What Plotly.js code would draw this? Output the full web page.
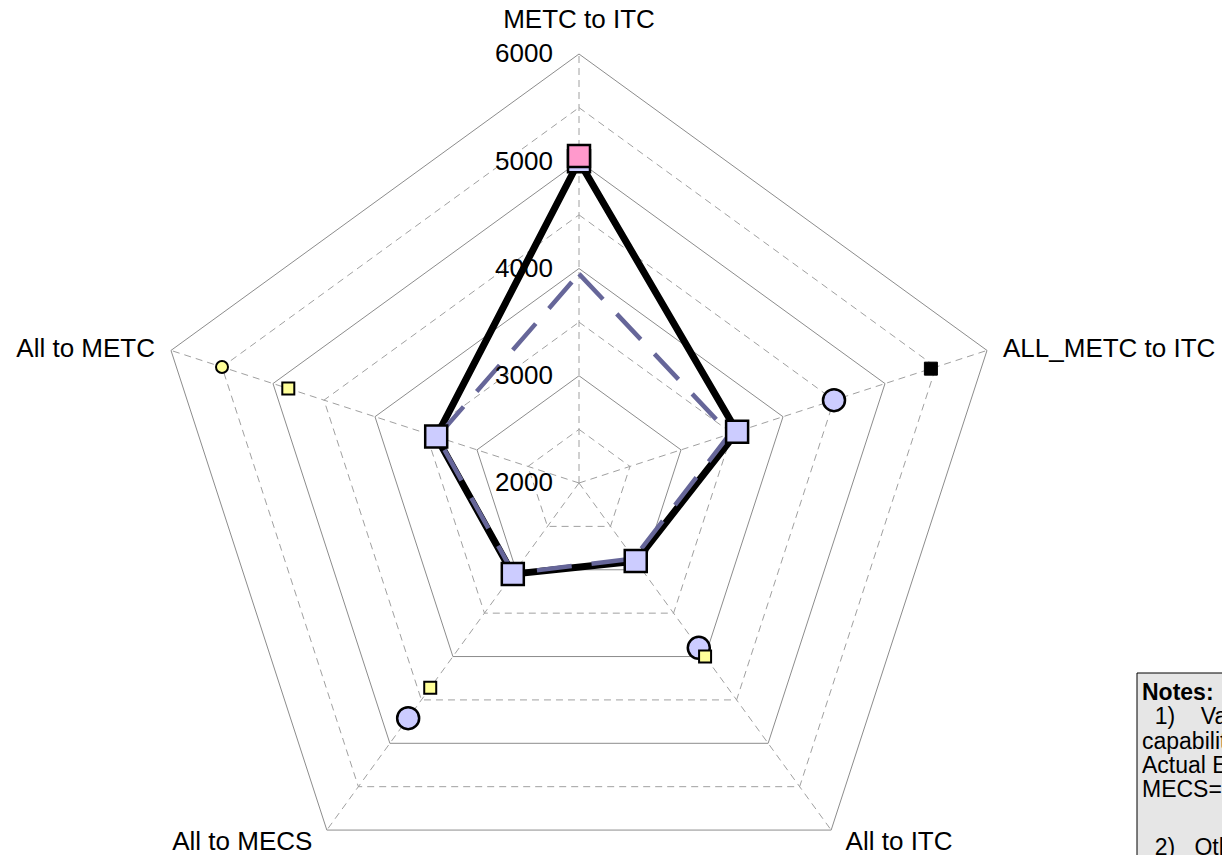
<!DOCTYPE html>
<html><head><meta charset="utf-8">
<script src="https://cdn.plot.ly/plotly-3.0.1.min.js"></script>
<style>
html,body{margin:0;padding:0;overflow:hidden;background:#fff;width:1222px;height:855px}
#chart{width:1500px;height:1000px}
</style>
</head><body><div id="chart"></div>
<script>
// ---- data ----
const categories = ["METC to ITC", "ALL_METC to ITC", "All to ITC", "All to MECS", "All to METC"];
const actualValues = [5000, 3550, 2900, 3050, 3400];      // thick black line, lavender squares
const dashedValues = [3950, 3480, 2870, 3040, 3390];      // slate dashed line
const pinkCats = ["METC to ITC"];
const pinkValues = [5050];
const circleCats = ["ALL_METC to ITC", "All to ITC", "All to MECS"];
const circleValues = [4500, 3900, 4710];
const yellowSqCats = ["All to ITC", "All to MECS", "All to METC"];
const yellowSqValues = [4000, 4360, 4850];
const yellowCircleCats = ["All to METC"];
const yellowCircleValues = [5500];
const blackSqCats = ["ALL_METC to ITC"];
const blackSqValues = [5450];
const radialTicks = [2000, 3000, 4000, 5000, 6000];
const dashedRingLevels = [2500, 3500, 4500, 5500];
const notesLines = [
  "<b>Notes:</b>",
  "&nbsp;&nbsp;1)&nbsp;&nbsp;&nbsp;&nbsp;Values are transfer",
  "capability limits (MW).",
  "Actual ETC limits shown;",
  "MECS=Michigan Electric",
  "&nbsp;&nbsp;2)&nbsp;&nbsp;&nbsp;Other paths shown"
];

// ---- build ----
const RMAX = 6000;
const NB = '\u00a0';
const closeT = a => a.concat([a[0]]);
const FONT = '"Liberation Sans", Arial, sans-serif';
const traces = [];
dashedRingLevels.forEach(lv => {
  traces.push({
    type: 'scatterpolar', mode: 'lines',
    theta: closeT(categories), r: closeT(categories.map(() => lv)),
    line: {color: '#a0a0a0', width: 1, dash: '7px,5px'},
    hoverinfo: 'skip', showlegend: false
  });
});
traces.push({
  type: 'scatterpolar', mode: 'lines',
  theta: closeT(categories), r: closeT(actualValues),
  line: {color: '#000000', width: 7}, showlegend: false
});
traces.push({
  type: 'scatterpolar', mode: 'lines',
  theta: closeT(categories), r: closeT(dashedValues),
  line: {color: '#666699', width: 4.5, dash: '35px,20px'}, showlegend: false
});
traces.push({
  type: 'scatterpolar', mode: 'markers',
  theta: categories, r: actualValues,
  marker: {symbol: 'square', size: 22, color: '#ccccff', line: {color: '#000', width: 2.5}}, showlegend: false
});
traces.push({
  type: 'scatterpolar', mode: 'markers',
  theta: pinkCats, r: pinkValues,
  marker: {symbol: 'square', size: 22, color: '#ff99cc', line: {color: '#000', width: 2.5}}, showlegend: false
});
traces.push({
  type: 'scatterpolar', mode: 'markers',
  theta: circleCats, r: circleValues,
  marker: {symbol: 'circle', size: 22, color: '#ccccff', line: {color: '#000', width: 2.5}}, showlegend: false
});
traces.push({
  type: 'scatterpolar', mode: 'markers',
  theta: yellowSqCats, r: yellowSqValues,
  marker: {symbol: 'square', size: 12, color: '#ffff99', line: {color: '#000', width: 2}}, showlegend: false
});
traces.push({
  type: 'scatterpolar', mode: 'markers',
  theta: yellowCircleCats, r: yellowCircleValues,
  marker: {symbol: 'circle', size: 12, color: '#ffff99', line: {color: '#000', width: 2}}, showlegend: false
});
traces.push({
  type: 'scatterpolar', mode: 'markers',
  theta: blackSqCats, r: blackSqValues,
  marker: {symbol: 'square', size: 13, color: '#000000', line: {color: '#000', width: 1}}, showlegend: false
});
// category labels placed at the outer ring through the polar scale
const labelPos = ['top center', 'middle right', 'bottom right', 'bottom left', 'middle left'];
const labelPad = ['', '', NB + NB, NB + NB, ''];
traces.push({
  type: 'scatterpolar', mode: 'markers+text', cliponaxis: false,
  theta: categories, r: categories.map(() => RMAX),
  text: categories.map((c, i) => labelPos[i].indexOf('left') >= 0 ? c + labelPad[i] : labelPad[i] + c),
  textposition: labelPos,
  textfont: {family: FONT, size: 26, color: '#000'},
  marker: {size: [30, 24, 0, 0, 24], opacity: 0}, hoverinfo: 'skip', showlegend: false
});

const W = 1500, H = 1000;
const noteY = [692, 716, 741, 765, 789, 847];
const annotations = notesLines.map((t, i) => ({
  xref: 'paper', yref: 'paper', x: 1140 / W, y: 1 - noteY[i] / H,
  xanchor: 'left', yanchor: 'middle', align: 'left', showarrow: false,
  text: t, font: {family: FONT, size: 23, color: '#000'}
}));
const layout = {
  width: W, height: H,
  margin: {l: 0, r: 0, t: 0, b: 0, pad: 0},
  paper_bgcolor: '#ffffff',
  font: {family: FONT, size: 26, color: '#000'},
  showlegend: false,
  polar: {
    domain: {x: [150 / W, 1008 / W], y: [1 - 912 / H, 1 - 54 / H]},
    bgcolor: '#ffffff',
    gridshape: 'linear',
    angularaxis: {
      type: 'category', categoryarray: categories, categoryorder: 'array',
      rotation: 90, direction: 'clockwise',
      showline: true, linecolor: '#8c8c8c', linewidth: 1,
      showgrid: true, gridcolor: '#a0a0a0', gridwidth: 1, griddash: '7px,5px',
      ticks: '', showticklabels: false
    },
    radialaxis: {
      range: [2000, RMAX], tickvals: radialTicks, ticktext: radialTicks.map(v => v + NB + NB + NB),
      angle: 90, side: 'counterclockwise', tickangle: 90,
      showline: false, ticks: '',
      showgrid: true, gridcolor: '#8c8c8c', gridwidth: 1,
      tickfont: {family: FONT, size: 26, color: '#000'}
    }
  },
  shapes: [{
    type: 'rect', xref: 'paper', yref: 'paper',
    x0: 1137 / W, x1: 1480 / W, y0: 1 - 673 / H, y1: 1 - 990 / H,
    fillcolor: '#e6e6e6', line: {color: '#000', width: 1}, layer: 'above'
  }],
  annotations: annotations
};
Plotly.newPlot('chart', traces, layout, {displayModeBar: false, staticPlot: true});
</script>
</body></html>
